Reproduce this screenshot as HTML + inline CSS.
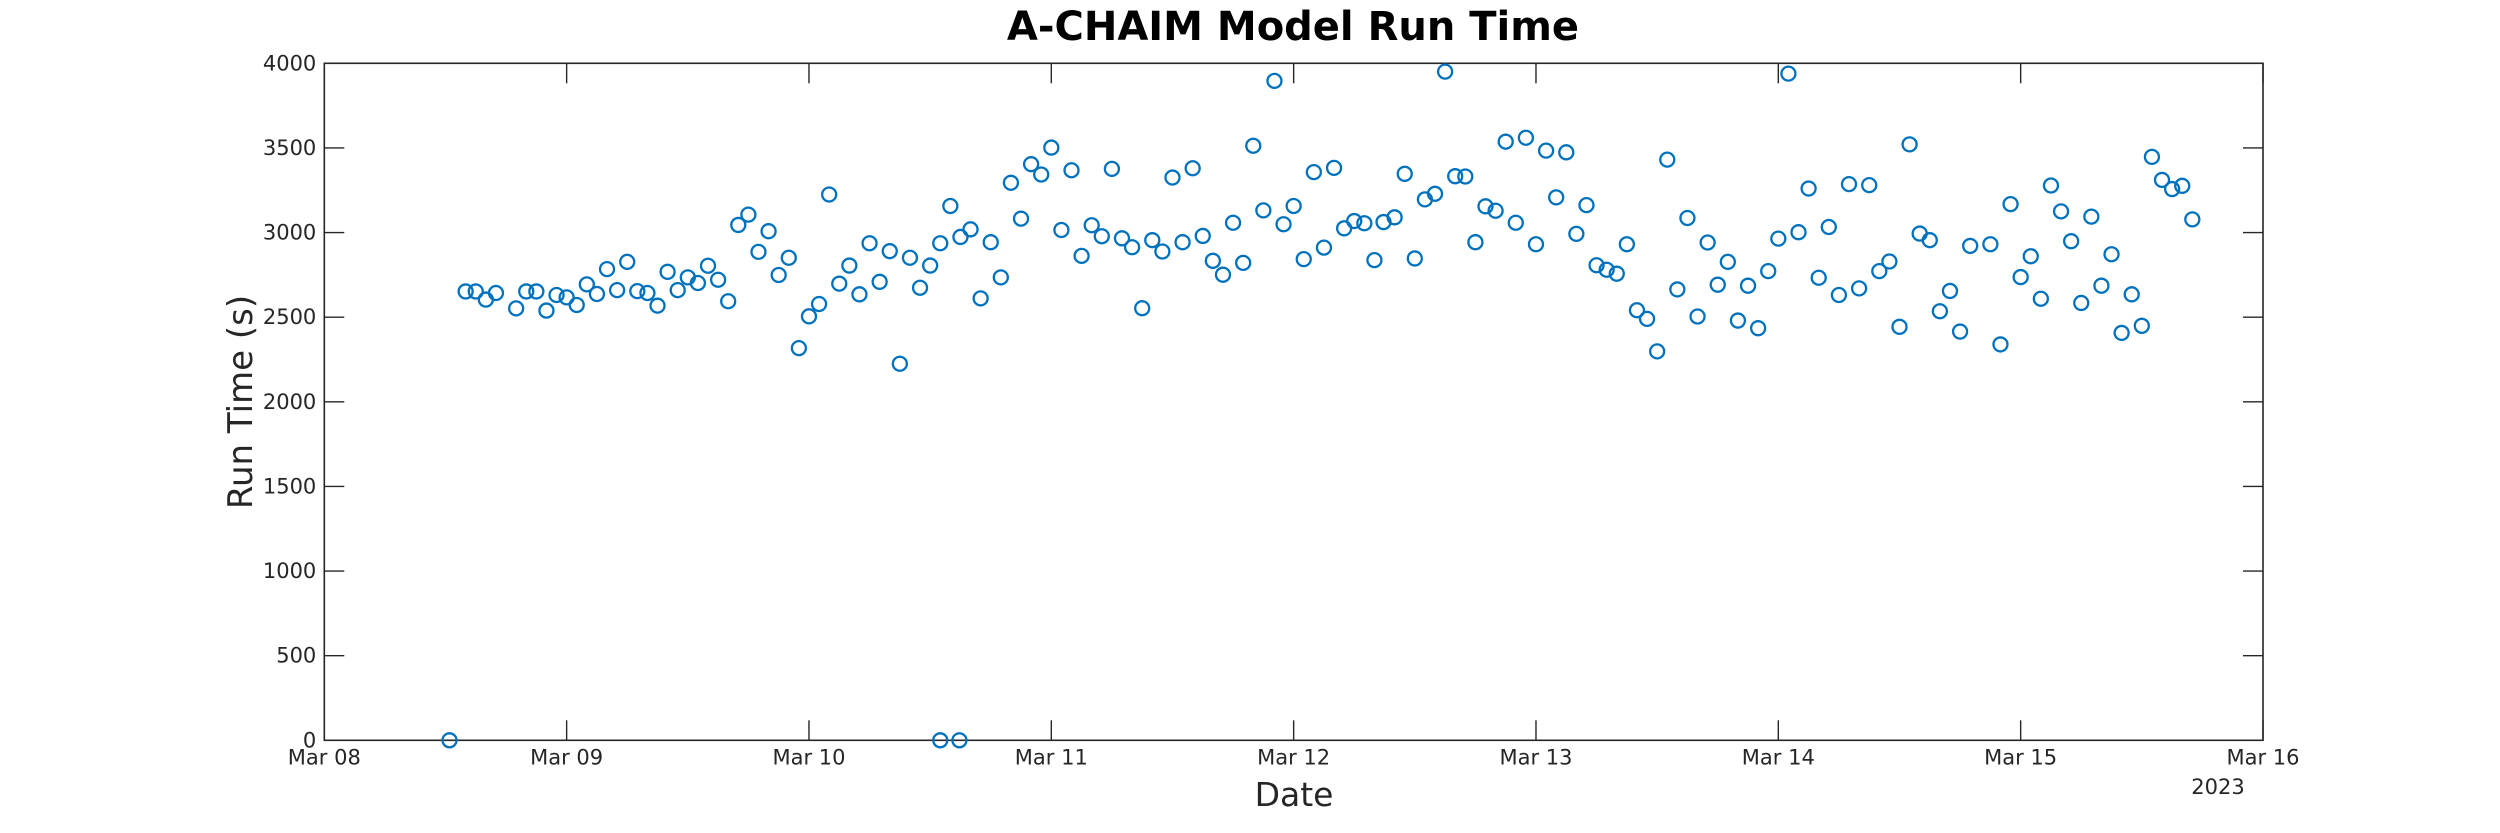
<!DOCTYPE html>
<html><head><meta charset="utf-8"><title>A-CHAIM Model Run Time</title>
<style>html,body{margin:0;padding:0;background:#fff;width:2500px;height:833px;overflow:hidden}
svg{display:block;font-family:"DejaVu Sans","Liberation Sans",sans-serif}</style></head>
<body>
<svg id="chart" width="2500" height="833" viewBox="0 0 2500 833" xmlns="http://www.w3.org/2000/svg">
<text x="1293" y="40" text-anchor="middle" font-size="40" font-weight="bold" fill="#000">A-CHAIM Model Run Time</text>
<g id="axes"></g>
<g id="points"></g>
<text x="1294" y="806" text-anchor="middle" font-size="33" fill="#262626">Date</text>
<text x="2218" y="794" text-anchor="middle" font-size="21" fill="#262626">2023</text>
<text transform="translate(252,402) rotate(-90)" text-anchor="middle" font-size="34" fill="#262626">Run Time (s)</text>
</svg>
<script>
// Hours since Mar 08 00:00
const hours = [12.4,14,15,16,17,19,20,21,22,23,24,25,26,27,28,29,30,31,32,33,34,35,36,37,38,39,40,41,42,43,44,45,46,47,48,49,50,51,52,61,53,54,62.9,55,56,57,58,59,60,61,62,63,64,65,66,67,68,69,70,71,72,73,74,75,76,77,78,79,80,81,82,83,84,85,86,87,88,89,90,91,92,93,94.1,95,96,97,98,99,100,101,102,103,104,104.9,106,107,108,109,110,111,112,113,114,115,116,117,118,119,120,121,122,123,124,125,126,127,128,129,130,131,132,133,134,135,136,137,138,139,140,141,142,143,144,145,146,147,148,149,150,151,152,153,154,155,156,157,158,159,160,161,162,163,165,166,167,168,169,170,171,172,173,174,175,176,177,178,179,180,181,182,183,184,185];
const runTimes = [0,2652,2652,2604,2643,2552,2652,2652,2539,2631,2617,2572,2694,2637,2784,2660,2827,2654,2643,2568,2768,2660,2735,2702,2804,2721,2594,3045,3106,2886,3008,2749,2851,2317,2505,2578,3225,2698,2805,0,2635,2937,0,2709,2890,2225,2851,2674,2805,2937,3157,2974,3019,2611,2943,2735,3294,3082,3404,3343,3502,3015,3368,2862,3043,2978,3376,2966,2913,2553,2955,2888,3325,2943,3380,2980,2833,2751,3058,2821,3513,3131,3896,3049,3157,2843,3357,2911,3382,3025,3068,3055,2837,3062,3090,3347,2847,3196,3229,3951,3333,3331,2943,3155,3129,3537,3058,3560,2931,3484,3208,3474,2992,3162,2807,2780,2757,2931,2541,2490,2298,3431,2664,3086,2504,2941,2692,2827,2480,2686,2435,2772,2964,3939,3002,3260,2733,3033,2631,3286,2670,3280,2772,2829,2443,3521,2994,2955,2535,2655,2415,2921,2931,2339,3168,2737,2860,2609,3278,3125,2949,2584,3094,2686,2872,2407,2635,2449,3447,3311,3257,3276,3078];
const xTickLabels = ["Mar 08","Mar 09","Mar 10","Mar 11","Mar 12","Mar 13","Mar 14","Mar 15","Mar 16"];
const yTickValues = [0,500,1000,1500,2000,2500,3000,3500,4000];

const L=324.3,R=2263,T=63.3,B=740.3;
const xMax=192,yMax=4000;
const xs=h=>L+(h/xMax)*(R-L);
const ys=v=>B-(v/yMax)*(B-T);
const NS="http://www.w3.org/2000/svg";
const axes=document.getElementById('axes');
const pts=document.getElementById('points');
function mk(tag,attrs,parent){const e=document.createElementNS(NS,tag);for(const k in attrs)e.setAttribute(k,attrs[k]);parent.appendChild(e);return e;}
const box=mk('rect',{x:L,y:T,width:R-L,height:B-T,fill:'none',stroke:'#262626','stroke-width':1.6},axes);


xTickLabels.forEach((lab,i)=>{
  const x=xs(i*24);
  const t1=mk('line',{x1:x,x2:x,y1:B,y2:B-20,stroke:'#262626','stroke-width':1.4},axes);
  
  
  const t2=mk('line',{x1:x,x2:x,y1:T,y2:T+20,stroke:'#262626','stroke-width':1.4},axes);
  
  
  const tx=mk('text',{x:x,y:B+24,'text-anchor':'middle','font-size':21,fill:'#262626'},axes);
  tx.textContent=lab;
  
  
});
yTickValues.forEach(v=>{
  const y=ys(v);
  const t1=mk('line',{x1:L,x2:L+20,y1:y,y2:y,stroke:'#262626','stroke-width':1.4},axes);
  
  
  const t2=mk('line',{x1:R,x2:R-20,y1:y,y2:y,stroke:'#262626','stroke-width':1.4},axes);
  
  
  const tx=mk('text',{x:L-8,y:y+7,'text-anchor':'end','font-size':21,fill:'#262626'},axes);
  tx.textContent=String(v);
  
  
});
hours.forEach((h,i)=>{
  const c=mk('circle',{cx:xs(h),cy:ys(runTimes[i]),r:7,fill:'none',stroke:'#0072BD','stroke-width':2.3},pts);
  
  
});
</script>
</body></html>
